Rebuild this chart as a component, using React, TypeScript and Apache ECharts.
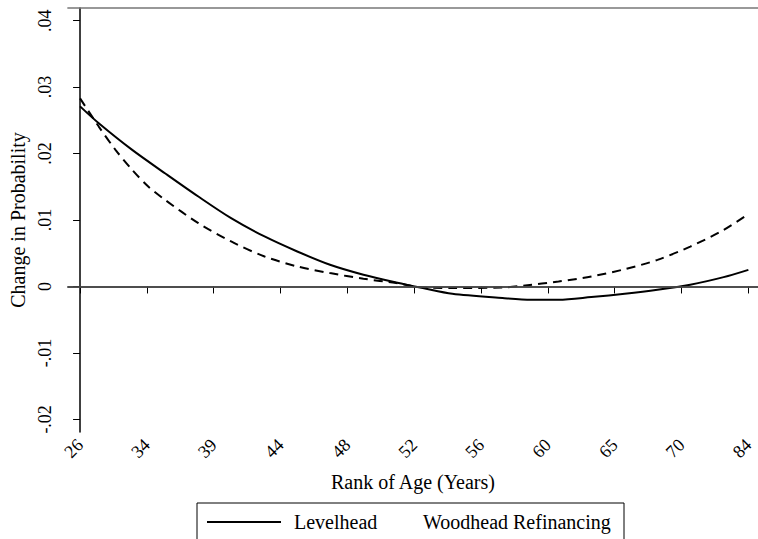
import React, { useEffect, useRef } from "react";
import * as echarts from "echarts";

// Rank positions (0..100) and age labels shown at every 10 ranks
const rankTicks = [0, 10, 20, 30, 40, 50, 60, 70, 80, 90, 100];
const ageLabels = ["26", "34", "39", "44", "48", "52", "56", "60", "65", "70", "84"];

const yTicks = [-0.02, -0.01, 0, 0.01, 0.02, 0.03, 0.04];
const yTickLabels = ["-.02", "-.01", "0", ".01", ".02", ".03", ".04"];

// Levelhead (solid)
const levelheadRanks = [0, 2.8, 7.8, 12.7, 17.7, 22.6, 27.6, 32.5, 37.4, 42.4, 47.3, 51.3, 55.7, 63.2, 67.5, 71.6, 76.5, 81.5, 86.4, 91.3, 96.3, 100];
const levelheadValues = [0.0271, 0.02456, 0.02055, 0.01704, 0.01353, 0.01028, 0.00752, 0.00526, 0.00326, 0.00176, 0.0006, -0.00024, -0.0011, -0.00174, -0.002, -0.002, -0.0016, -0.0011, -0.0005, 0.00026, 0.0014, 0.0025];

// Woodhead Refinancing (dashed)
const woodheadRanks = [0, 2.8, 5.3, 7.8, 10.2, 12.7, 17.7, 22.6, 27.6, 32.5, 37.4, 42.4, 47.3, 50.8, 55.7, 63.2, 66.6, 71.6, 76.5, 81.5, 86.4, 91.3, 96.3, 100];
const woodheadValues = [0.0283, 0.02406, 0.02056, 0.01755, 0.01504, 0.01304, 0.00953, 0.00677, 0.00451, 0.00301, 0.00201, 0.00116, 0.00051, -0.0001, -0.00024, -0.00015, 0.00015, 0.00075, 0.0015, 0.0026, 0.004, 0.006, 0.0085, 0.0109];

const seriesNames = ["Levelhead", "Woodhead Refinancing"];

const FONT = "'Liberation Serif', 'Times New Roman', Times, 'DejaVu Serif', serif";

export default function App() {
  const ref = useRef<HTMLDivElement>(null);
  useEffect(() => {
    if (!ref.current) return;
    const chart = echarts.init(ref.current, undefined, { renderer: "svg" });
    const pairs = (xs: number[], ys: number[]) => xs.map((x, i) => [x, ys[i]]);
    chart.setOption({
      animation: false,
      backgroundColor: "#ffffff",
      textStyle: { fontFamily: FONT, color: "#000" },
      grid: { left: 62, top: 8, right: 0, bottom: 107, containLabel: false },
      xAxis: [
        {
          type: "value",
          min: -1.82,
          max: 101.44,
          name: "Rank of Age (Years)",
          nameLocation: "middle",
          nameGap: 40,
          nameTextStyle: { fontFamily: FONT, fontSize: 20, color: "#000" },
          axisLine: { show: true, lineStyle: { color: "#000", width: 1.5 } },
          axisTick: { show: true, length: 7, customValues: rankTicks, lineStyle: { color: "#000", width: 1 } },
          axisLabel: {
            customValues: rankTicks,
            rotate: 45,
            margin: 10,
            fontFamily: FONT,
            fontSize: 18,
            color: "#000",
            formatter: (v: number) => {
              const i = rankTicks.indexOf(Math.round(v));
              return i >= 0 ? ageLabels[i] : "";
            },
          },
          splitLine: { show: false },
        },
        {
          type: "value",
          position: "top",
          min: -1.82,
          max: 101.44,
          axisLine: { show: true, lineStyle: { color: "#777", width: 1.5 } },
          axisTick: { show: false },
          axisLabel: { show: false },
          splitLine: { show: false },
        },
      ],
      yAxis: {
        type: "value",
        min: -0.0219,
        max: 0.0419,
        name: "Change in Probability",
        nameLocation: "middle",
        nameGap: 38,
        nameTextStyle: { fontFamily: FONT, fontSize: 20, color: "#000" },
        axisLine: { show: true, lineStyle: { color: "#000", width: 1.5 } },
        axisTick: { show: true, length: 7, customValues: yTicks, lineStyle: { color: "#000", width: 1 } },
        axisLabel: {
          customValues: yTicks,
          rotate: 90,
          margin: 14,
          fontFamily: FONT,
          fontSize: 18,
          color: "#000",
          formatter: (v: number) => {
            let best = 0;
            yTicks.forEach((t, i) => {
              if (Math.abs(t - v) < Math.abs(yTicks[best] - v)) best = i;
            });
            return yTickLabels[best];
          },
        },
        splitLine: { show: false },
      },
      series: [
        {
          name: seriesNames[0],
          type: "line",
          data: pairs(levelheadRanks, levelheadValues),
          smooth: 0.3,
          symbol: "none",
          lineStyle: { color: "#000", width: 2, type: "solid" },
          markLine: {
            silent: true,
            symbol: "none",
            label: { show: false },
            lineStyle: { color: "#555", width: 1.5, type: "solid" },
            data: [{ yAxis: 0 }],
          },
        },
        {
          name: seriesNames[1],
          type: "line",
          data: pairs(woodheadRanks, woodheadValues),
          smooth: 0.3,
          symbol: "none",
          lineStyle: { color: "#000", width: 2, type: [9, 6] },
        },
      ],
      graphic: [
        {
          type: "rect",
          shape: { x: 197, y: 503, width: 427, height: 50 },
          style: { fill: "#fff", stroke: "#000", lineWidth: 1 },
        },
        {
          type: "line",
          shape: { x1: 207, y1: 522, x2: 281, y2: 522 },
          style: { stroke: "#000", lineWidth: 2 },
        },
        {
          type: "text",
          x: 294,
          y: 522,
          style: { text: seriesNames[0], fontFamily: FONT, fontSize: 20, fill: "#000", verticalAlign: "middle" },
        },
        {
          type: "text",
          x: 423,
          y: 522,
          style: { text: seriesNames[1], fontFamily: FONT, fontSize: 20, fill: "#000", verticalAlign: "middle" },
        },
      ],
    });
    return () => chart.dispose();
  }, []);
  return (
    <div
      ref={ref}
      style={{ position: "fixed", left: 0, top: 0, width: 758, height: 539 }}
    />
  );
}
